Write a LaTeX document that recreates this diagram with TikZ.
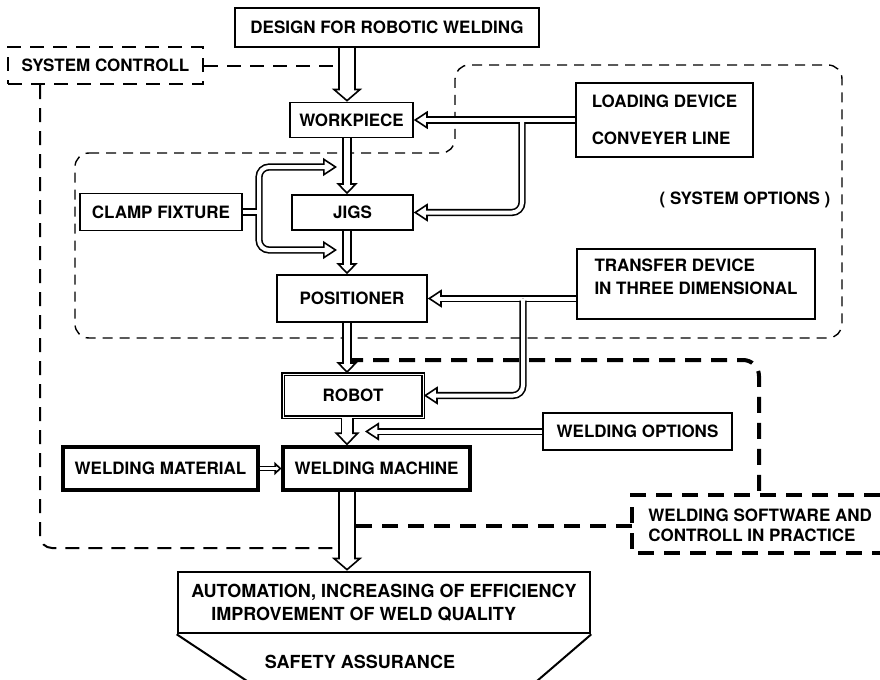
\documentclass[tikz,border=0pt]{standalone}
\usepackage{fontspec}
\setmainfont{TeX Gyre Heros}
\usetikzlibrary{arrows.meta}

\begin{document}
\begin{tikzpicture}
	[x=0.5pt, y=-0.5pt,
	every node/.style={font=\bfseries\fontsize{8.5}{11.5}\selectfont, inner sep=0pt},
	box/.style={draw, line width=.8pt},
	heavy/.style={draw, line width=1.6pt},
	ctrl/.style={line width=1pt, dash pattern=on 7pt off 4.5pt},
	optline/.style={line width=.7pt, dash pattern=on 5pt off 3.5pt},
	soft/.style={line width=2pt, dash pattern=on 8pt off 5pt},
	hollow/.style n args={3}{line width=.8pt,
		-{Triangle[width=#2, length=#3, fill=white]},
		preaction={draw, -, line width=#1, shorten <=0pt, shorten >=#3-1pt},
		postaction={draw=white, -, line width=#1-1.6pt, shorten >=#3-1.4pt}},
	twohead/.style n args={3}{line width=.8pt,
		{Triangle[width=#2, length=#3, fill=white]}-{Triangle[width=#2, length=#3, fill=white]},
		preaction={draw, -, line width=#1, shorten <=#3-1pt, shorten >=#3-1pt},
		postaction={draw=white, -, line width=#1-1.6pt, shorten <=#3-1.4pt, shorten >=#3-1.4pt}},
	bigarrow/.style={hollow={9pt}{15pt}{6.5pt}},
	midarrow/.style={hollow={4.6pt}{10.5pt}{5.5pt}},
	pipearrow/.style={hollow={3.6pt}{9pt}{7pt}},
	pipe/.style={line width=.8pt, preaction={draw, line width=3.6pt},
		postaction={draw=white, line width=2pt, shorten >=-.9pt}}]
	\useasboundingbox (0,0) rectangle (880,680);

	\node (design) [box, minimum width=152pt, minimum height=19.5pt] at (387,27.5) {DESIGN FOR ROBOTIC WELDING};
	\node (sysctl) [ctrl, draw, minimum width=97.5pt, minimum height=18.5pt] at (105.5,65.5) {SYSTEM CONTROLL};
	\node (work) [box, minimum width=61.5pt, minimum height=17.5pt] at (351.5,120) {WORKPIECE};
	\node (load) [box, align=left, minimum width=88.5pt, minimum height=37pt] at (664.5,120) {LOADING DEVICE\\[7pt]CONVEYER LINE};
	\node (clamp) [box, minimum width=81pt, minimum height=18.5pt] at (161,212) {CLAMP FIXTURE};
	\node (jigs) [box, minimum width=60.5pt, minimum height=17.5pt] at (352.5,212.5) {JIGS};
	\node (options) at (745,200) {( SYSTEM OPTIONS )};
	\node (posi) [box, minimum width=75pt, minimum height=23.5pt] at (352,298.5) {POSITIONER};
	\node (trans) [box, align=left, minimum width=119pt, minimum height=35pt] at (696,284) {TRANSFER DEVICE\\IN THREE DIMENSIONAL\\[-4pt]};
	\node (robot) [draw, double, double distance=.5pt, line width=.8pt, minimum width=70pt, minimum height=21.5pt] at (353,395.5) {ROBOT};
	\node (wopt) [box, minimum width=94.5pt, minimum height=18.5pt] at (637.5,431.5) {WELDING OPTIONS};
	\node (wmat) [heavy, minimum width=97.5pt, minimum height=21.5pt] at (160.5,468.5) {WELDING MATERIAL};
	\node (wmach) [heavy, minimum width=93.5pt, minimum height=21.5pt] at (376.5,468.5) {WELDING MACHINE};
	\node (soft) [align=left, anchor=west] at (648,525) {WELDING SOFTWARE AND\\[-1.5pt]CONTROLL IN PRACTICE};
	\node (auto) [draw, line width=1.3pt, align=left, minimum width=206pt, minimum height=30.5pt, font=\bfseries\fontsize{9}{11.5}\selectfont] at (384,602.5) {AUTOMATION, INCREASING OF EFFICIENCY\\\hspace*{10pt}IMPROVEMENT OF WELD QUALITY};
	\node (safety) [font=\bfseries\fontsize{9}{11.5}\selectfont] at (360,662) {SAFETY ASSURANCE};

	\coordinate (axis) at (347,0);
	\coordinate (ctrlx) at (40,0);
	\coordinate (ctrlend) at (347,548);
	\coordinate (softstart) at (347,360);
	\coordinate (softtop) at (759,495);
	\coordinate (softin) at (632,526);
	\coordinate (softend) at (347,526);
	\coordinate (loadfork) at (522,122);
	\coordinate (transfork) at (523,300.5);
	\coordinate (clampup) at (337,167);
	\coordinate (clampmid) at (259,212);
	\coordinate (clampdown) at (337,250);
	\coordinate (clampin) at (257,212);
	\coordinate (optin) at (365,431.5);

	\draw[ctrl] (sysctl.east) -- (sysctl.east -| axis);
	\draw[ctrl, rounded corners=6pt] (sysctl.south -| ctrlx) |- (ctrlend);
	\draw[optline, rounded corners=7pt] (75,153) -- (455,153) -- (455,65) -- (842,65) -- (842,338) -- (75,338) -- cycle;
	\draw[soft, rounded corners=8pt] (softstart) -| (softtop);
	\draw[soft] (880,495) -- (632,495) -- (632,553) -- (880,553);
	\draw[soft] (softin) -- (softend);
	\draw[line width=1pt] (auto.south west) -- (247,681) (auto.south east) -- (537,681);

	\draw[bigarrow] (design.south -| axis) -- (work.north -| axis);
	\draw[midarrow] (work.south -| axis) -- (jigs.north -| axis);
	\draw[midarrow] (jigs.south -| axis) -- (posi.north -| axis);
	\draw[midarrow] (posi.south -| axis) -- (robot.north -| axis);
	\draw[hollow={6.5pt}{12.5pt}{6.5pt}] (robot.south -| axis) -- (wmach.north -| axis);
	\draw[bigarrow] (wmach.south -| axis) -- (auto.north -| axis);
	\draw[pipearrow] (load.west) -- (work.east);
	\draw[pipearrow, rounded corners=5pt, shorten <=-.9pt] (loadfork) |- (jigs.east);
	\draw[pipearrow] (trans.west |- posi.east) -- (posi.east);
	\draw[pipearrow, rounded corners=5pt, shorten <=-.9pt] (transfork) |- (robot.east);
	\draw[twohead={3.6pt}{9pt}{7pt}, rounded corners=5pt] (clampup) -| (clampmid) |- (clampdown);
	\draw[pipe] (clamp.east) -- (clampin);
	\draw[pipearrow] (wopt.west) -- (optin);
	\draw[hollow={2.8pt}{6.5pt}{3.5pt}] (wmat.east) -- (wmach.west);
\end{tikzpicture}
\end{document}
